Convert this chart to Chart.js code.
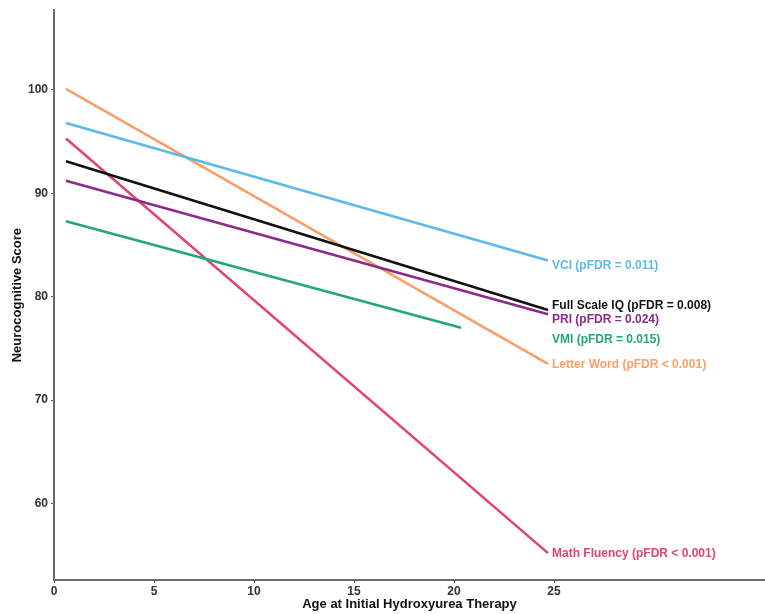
<!DOCTYPE html>
<html>
<head>
<meta charset="utf-8">
<script src="https://cdn.jsdelivr.net/npm/chart.js@4.4.1/dist/chart.umd.min.js"></script>
<style>
  html, body { margin: 0; padding: 0; background: #fff; }
  #wrap { width: 765px; height: 614px; }
</style>
</head>
<body>
<div id="wrap"><canvas id="grafico"></canvas></div>
<script>
// Datos
const nombres = ['VCI', 'Full Scale IQ', 'PRI', 'VMI', 'Letter Word', 'Math Fluency'];
const etiquetas = [
    'VCI (pFDR = 0.011)',
    'Full Scale IQ (pFDR = 0.008)',
    'PRI (pFDR = 0.024)',
    'VMI (pFDR = 0.015)',
    'Letter Word (pFDR < 0.001)',
    'Math Fluency (pFDR < 0.001)'
];
const colores = ['#5db9ec', '#111111', '#8c2a8c', '#22a67b', '#fb9f66', '#e2456d'];
const edadInicio = [0.6, 0.6, 0.6, 0.6, 0.6, 0.6];
const edadFin = [24.7, 24.7, 24.7, 20.35, 24.7, 24.7];
const puntajeInicio = [96.8, 93.1, 91.2, 87.3, 100.1, 95.3];
const puntajeFin = [83.5, 78.7, 78.3, 77.0, 73.5, 55.2];
// posición vertical de cada etiqueta (en unidades de puntaje)
const etiquetaY = [83.0, 79.1, 77.75, 75.8, 73.45, 55.1];
const ticksX = [0, 5, 10, 15, 20, 25];
const ticksY = [60, 70, 80, 90, 100];

const datasets = nombres.map((nombre, i) => ({
    label: nombre,
    data: [
        { x: edadInicio[i], y: puntajeInicio[i] },
        { x: edadFin[i], y: puntajeFin[i] }
    ],
    borderColor: colores[i],
    backgroundColor: colores[i],
    borderWidth: 2.6,
    showLine: true,
    pointRadius: 0,
    order: i === 1 ? 0 : 1
}));

// Etiquetas al final de cada recta
const pluginEtiquetas = {
    id: 'etiquetas',
    afterDatasetsDraw(chart) {
        const ctx = chart.ctx;
        const x = chart.scales.x;
        const y = chart.scales.y;
        ctx.save();
        ctx.font = 'bold 12px "Liberation Sans", Arial, sans-serif';
        ctx.textBaseline = 'middle';
        ctx.textAlign = 'left';
        etiquetas.forEach((texto, i) => {
            ctx.fillStyle = colores[i];
            ctx.fillText(texto, x.getPixelForValue(24.9), y.getPixelForValue(etiquetaY[i]));
        });
        ctx.restore();
    }
};

const fuenteTick = { family: '"Liberation Sans", Arial, sans-serif', size: 12, weight: 'bold' };
const fuenteTitulo = { family: '"Liberation Sans", Arial, sans-serif', size: 13, weight: 'bold' };

new Chart(document.getElementById('grafico'), {
    type: 'scatter',
    data: { datasets: datasets },
    plugins: [pluginEtiquetas],
    options: {
        responsive: true,
        maintainAspectRatio: false,
        animation: false,
        layout: { padding: { top: 8, right: 0, left: 0, bottom: 0 } },
        plugins: {
            legend: { display: false },
            tooltip: { enabled: false }
        },
        scales: {
            x: {
                type: 'linear',
                min: 0,
                max: 35.55,
                afterBuildTicks: (eje) => { eje.ticks = ticksX.map(v => ({ value: v })); },
                afterFit: (eje) => { eje.height = 34; },
                grid: { display: true, drawOnChartArea: false, tickLength: 3, color: '#666' },
                border: { color: '#6a6a6a', width: 2 },
                ticks: { color: '#333', font: fuenteTick, padding: 1, maxRotation: 0 },
                title: { display: true, text: 'Age at Initial Hydroxyurea Therapy', color: '#111', font: fuenteTitulo, padding: { top: 0, bottom: 2 } }
            },
            y: {
                type: 'linear',
                min: 52.6,
                max: 107.7,
                afterBuildTicks: (eje) => { eje.ticks = ticksY.map(v => ({ value: v })); },
                afterFit: (eje) => { eje.width = 54; },
                grid: { display: true, drawOnChartArea: false, tickLength: 3, color: '#666' },
                border: { color: '#6a6a6a', width: 2 },
                ticks: { color: '#333', font: fuenteTick, padding: 3 },
                title: { display: true, text: 'Neurocognitive Score', color: '#111', font: fuenteTitulo, padding: { top: 10, bottom: 0 } }
            }
        }
    }
});
</script>
</body>
</html>
